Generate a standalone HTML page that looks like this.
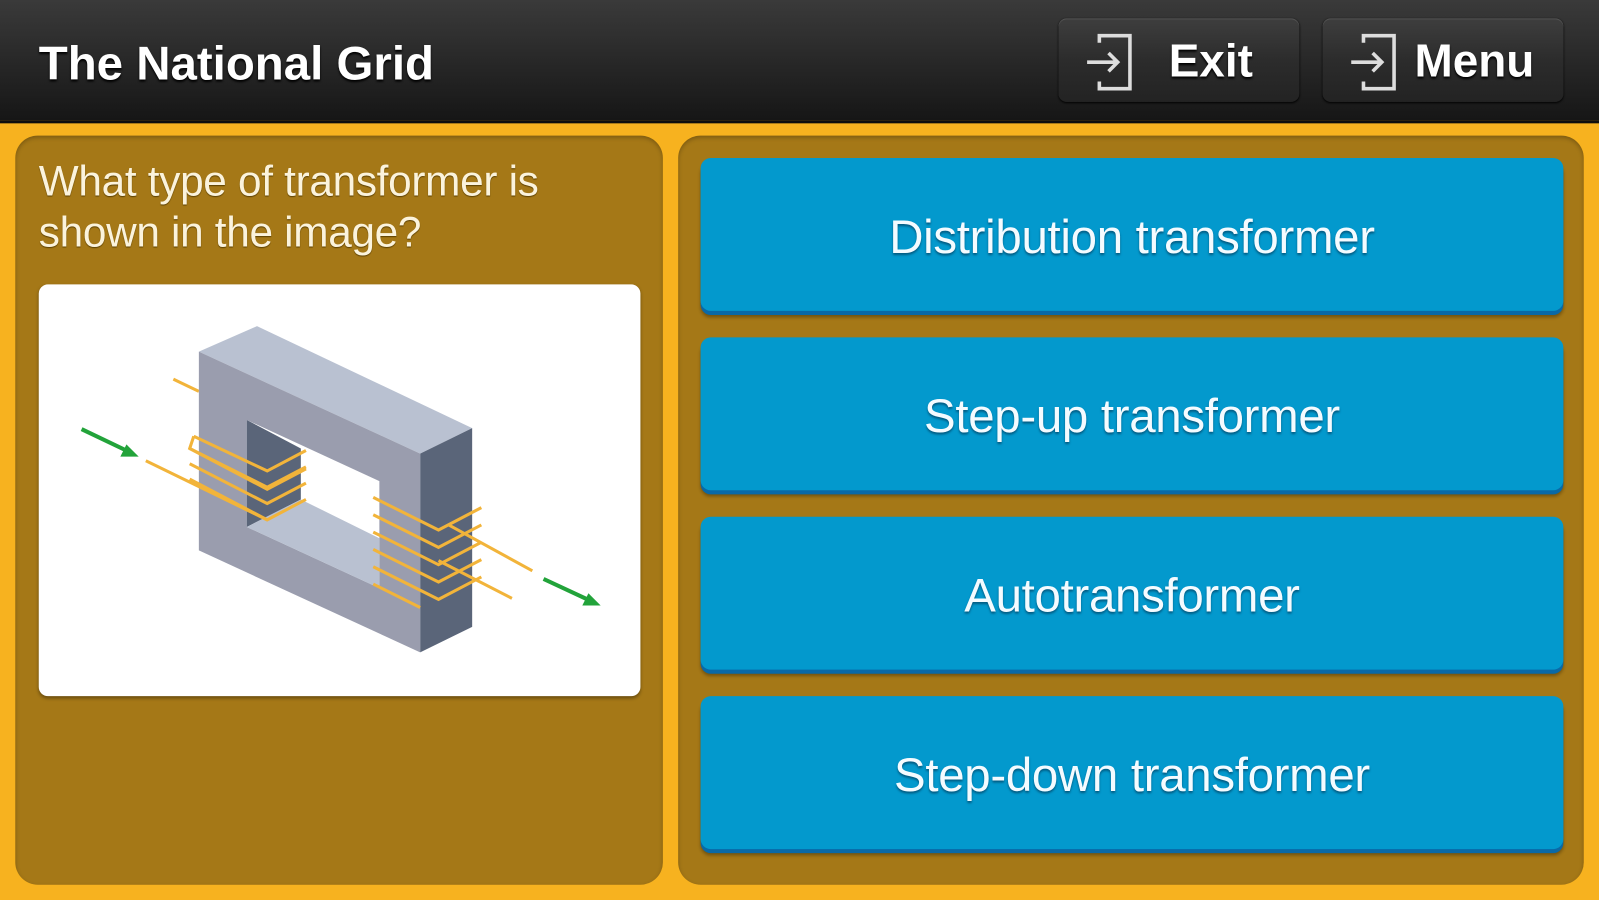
<!DOCTYPE html>
<html><head><style>
html,body{margin:0;padding:0;width:1599px;height:900px;overflow:hidden;background:#f7b21f;}
#w{position:absolute;left:0;top:0;width:1568px;height:883px;transform:scale(1.0198,1.0193);transform-origin:0 0;font-family:"Liberation Sans",sans-serif;}
.hdr{position:absolute;left:0;top:0;width:1568px;height:118px;background:linear-gradient(#3a3a3a,#2a2a2a 45%,#161616);border-bottom:3px solid #0e0e0e;}
.title{position:absolute;left:38px;top:35px;font-size:46.5px;font-weight:bold;color:#fff;text-shadow:0 2px 2px #000;}
.hb{position:absolute;top:18px;height:82px;border-radius:8px;background:linear-gradient(#3e3e3e,#2c2c2c 50%,#232323);box-shadow:0 1px 2px #000,inset 0 1px 0 #555;color:#fff;font-weight:bold;font-size:45px;}
.hb span{position:absolute;top:16px;text-shadow:0 2px 2px #000;}
.hb svg{position:absolute;left:26px;top:14px;}
.panel{position:absolute;top:133px;height:735px;background:#a57817;border-radius:22px;box-shadow:inset 0 2px 4px rgba(0,0,0,.25);}
.q{position:absolute;left:38px;top:153px;font-size:41.5px;line-height:50px;color:#fbf3dc;text-shadow:0 1px 1px #5a3f00;letter-spacing:-0.3px;}
.img{position:absolute;left:38px;top:279px;width:590px;height:404px;background:#fff;border-radius:9px;box-shadow:0 2px 3px rgba(0,0,0,.35);}
.btn{position:absolute;left:687px;width:846px;height:150px;background:#0399cd;border-radius:10px;box-shadow:0 4px 0 #0a69a6,0 6px 3px rgba(0,0,0,.3);color:#f4fbff;font-size:46.5px;text-align:center;line-height:154px;text-shadow:0 2px 2px #035a80;letter-spacing:-0.3px;}
</style></head><body><div id="w">
<div class="hdr">
<div class="title">The National Grid</div>
<div class="hb" style="left:1038px;width:236px"><svg width="52" height="58" viewBox="0 0 52 58"><path d="M14 10 V3 H44 V55 H14 V48" fill="none" stroke="#ddd" stroke-width="3.5"/><path d="M2 29 H32 M23 20 L32 29 L23 38" fill="none" stroke="#ddd" stroke-width="3.5"/></svg><span style="left:108px">Exit</span></div>
<div class="hb" style="left:1297px;width:236px"><svg width="52" height="58" viewBox="0 0 52 58"><path d="M14 10 V3 H44 V55 H14 V48" fill="none" stroke="#ddd" stroke-width="3.5"/><path d="M2 29 H32 M23 20 L32 29 L23 38" fill="none" stroke="#ddd" stroke-width="3.5"/></svg><span style="left:90px">Menu</span></div>
</div>
<div class="panel" style="left:15px;width:635px"></div>
<div class="panel" style="left:665px;width:888px"></div>
<div class="q">What type of transformer is<br>shown in the image?</div>
<div class="img"><svg width="590" height="404" viewBox="38 279 590 404" style="position:absolute;left:0;top:0">
<line x1="170" y1="372" x2="195" y2="384" stroke="#f2b43a" stroke-width="3"/>
<polygon points="195,345 252,320 463,420 412,445" fill="#b9c1d1"/>
<polygon points="412,445 463,420 463,615 412,640" fill="#5a6579"/>
<polygon points="195,345 412,445 412,640 195,540" fill="#9a9dae"/>
<polygon points="242,412 372,472 372,577 242,517" fill="#fff"/>
<polygon points="242,412 295,440 295,490 242,517" fill="#5a6579"/>
<polygon points="242,517 295,490 372,528 372,577" fill="#b9c1d1"/>
<g fill="none" stroke="#f2b43a" stroke-width="3">
<path d="M190 428 L262 462 L300 442 M190 428 L186 440 L262 478 L300 458"/>
<path d="M186 440 L262 480 L300 460 M186 455 L262 494 L300 474"/>
<path d="M186 470 L262 510 L300 490"/>
<line x1="143" y1="452" x2="262" y2="510"/>
<path d="M366 488 L430 520 L472 498 M366 505 L430 537 L472 515 M366 522 L430 554 L472 532 M366 539 L430 571 L472 549 M366 556 L430 588 L472 566 M366 573 L412 596"/>
<line x1="440" y1="515" x2="522" y2="560"/>
<line x1="430" y1="550" x2="502" y2="587"/>
</g>
<g stroke="#22a33a" stroke-width="4" fill="#22a33a">
<line x1="80" y1="421" x2="124" y2="442"/><polygon points="136,448 118,448 124,436" stroke="none"/>
<line x1="533" y1="568" x2="576" y2="588"/><polygon points="589,594 571,594 577,582" stroke="none"/>
</g>
</svg></div>
<div class="btn" style="top:155px">Distribution transformer</div>
<div class="btn" style="top:331px">Step-up transformer</div>
<div class="btn" style="top:507px">Autotransformer</div>
<div class="btn" style="top:683px">Step-down transformer</div>
</div></body></html>
